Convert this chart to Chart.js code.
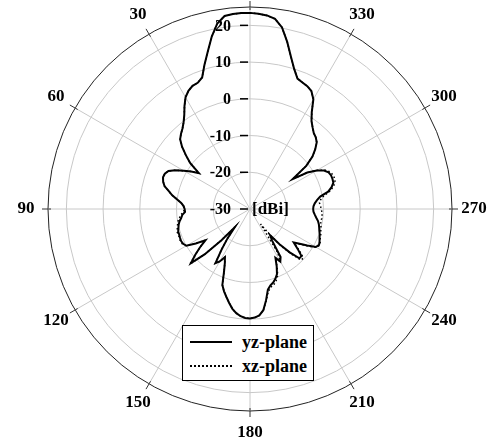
<!DOCTYPE html>
<html>
<head>
<meta charset="UTF-8">
<title>Radiation pattern</title>
<script src="https://cdn.jsdelivr.net/npm/chart.js"></script>
<style>
    body {
        margin: 0;
        background: #fff;
    }

    .wrap {
        position: relative;
        width: 500px;
        height: 443px;
    }

    .legend {
        position: absolute;
        left: 182px;
        top: 325px;
        width: 132px;
        height: 56px;
        border: 1px solid #000;
        background: #fff;
        font: bold 18px "Liberation Serif", serif;
        padding-top: 4px;
        box-sizing: border-box;
    }

    .legend .row {
        display: flex;
        align-items: center;
        height: 24px;
        margin-left: 7px;
    }

    .legend .sample {
        width: 42px;
        margin-right: 10px;
        border-top: 2px solid #000;
    }

    .legend .sample.dot {
        border-top: 2px dotted #000;
    }
</style>
</head>
<body>

<div class="wrap">
    <canvas id="polar"></canvas>
    <div class="legend">
        <div class="row"><span class="sample"></span>yz-plane</div>
        <div class="row"><span class="sample dot"></span>xz-plane</div>
    </div>
</div>

<script>
    // gain in dBi, every 2.5 deg, angle counted counter-clockwise from the top (0, 2.5, ... 357.5)
    const yzPlane = [
        23.4, 23.4, 23.3, 23.0, 21.3, 18.1, 14.4, 11.2, 8.1, 7.2, 7.0, 6.3,
        5.1, 3.2, 1.2, -0.3, -1.4, -2.2, -3.1, -4.9, -7.2, -9.5, -13.0, -11.0,
        -9.2, -7.1, -5.5, -4.9, -4.8, -5.2, -5.9, -7.3, -8.5, -10.0, -11.2, -11.9,
        -12.2, -12.3, -11.5, -11.1, -10.5, -10.1, -9.8, -9.5, -9.5, -9.4, -9.3, -9.5,
        -10.0, -12.5, -15.2, -12.8, -10.5, -8.2, -12.5, -18.5, -23.5, -20.0, -16.5, -12.5,
        -13.5, -15.2, -13.8, -11.5, -8.0, -6.5, -5.2, -3.8, -2.4, -1.4, -0.7, -0.3,
        -0.2, -0.4, -0.9, -2.2, -4.8, -7.5, -8.5, -9.0, -9.8, -10.8, -12.8, -15.0,
        -13.5, -14.5, -19.5, -21.0, -17.5, -14.0, -11.0, -11.0, -13.0, -15.0, -13.5, -11.5,
        -9.3, -8.8, -9.1, -9.5, -9.8, -10.2, -10.5, -10.8, -11.2, -11.8, -12.3, -12.7,
        -12.8, -12.7, -12.3, -11.6, -10.6, -8.2, -7.0, -6.2, -6.1, -6.1, -6.4, -7.3,
        -9.0, -11.5, -15.8, -10.7, -7.8, -5.9, -4.3, -3.5, -3.0, -2.0, -0.8, 1.3,
        4.5, 6.2, 6.9, 7.3, 7.8, 10.0, 13.0, 16.7, 20.2, 22.2, 22.9, 23.2
    ];

    const xzPlane = [
        23.4, 23.4, 23.3, 23.0, 21.3, 18.1, 14.4, 11.2, 8.1, 7.2, 7.0, 6.3,
        5.1, 3.2, 1.2, -0.3, -1.4, -2.2, -3.1, -4.9, -7.2, -9.5, -13.0, -11.0,
        -9.2, -7.1, -5.5, -4.9, -4.8, -5.2, -5.9, -7.3, -8.5, -10.0, -11.2, -11.9,
        -12.0, -12.0, -11.0, -10.6, -10.0, -9.8, -9.5, -9.2, -9.3, -9.2, -9.1, -9.3,
        -10.0, -12.5, -15.2, -12.8, -10.5, -7.8, -12.5, -18.5, -23.5, -20.0, -16.5, -12.5,
        -13.5, -15.2, -13.8, -11.5, -8.0, -6.5, -5.2, -3.8, -2.4, -1.4, -0.7, -0.3,
        -0.2, -0.4, -0.9, -2.2, -4.6, -7.0, -8.0, -8.4, -9.2, -10.3, -12.5, -15.0,
        -13.5, -16.0, -25.0, -21.5, -17.0, -13.5, -10.3, -10.3, -12.5, -14.8, -13.2, -11.2,
        -9.1, -8.6, -8.9, -9.3, -9.5, -9.8, -10.0, -10.2, -10.5, -10.3, -10.3, -10.4,
        -10.6, -10.8, -11.0, -10.6, -9.6, -7.8, -6.5, -5.7, -5.5, -5.6, -6.0, -7.0,
        -9.0, -11.5, -15.8, -10.7, -7.8, -5.9, -4.3, -3.5, -3.0, -2.0, -0.8, 1.3,
        4.5, 6.2, 6.9, 7.3, 7.8, 10.0, 13.0, 16.7, 20.2, 22.2, 22.9, 23.2
    ];

    const angleStep = 2.5;
    const angleMarks = [30, 60, 90, 120, 150, 180, 210, 240, 270, 300, 330];
    const rTicks = [-30, -20, -10, 0, 10, 20];
    const rMax = 25;

    // radar goes clockwise, the plot goes counter-clockwise -> walk the arrays backwards
    const n = yzPlane.length;
    const order = yzPlane.map((_, i) => (n - i) % n);
    const labels = order.map(k => k * angleStep);

    const polarText = {
        id: 'polarText',
        afterDatasetsDraw(chart) {
            const s = chart.scales.r;
            const ctx = chart.ctx;
            ctx.save();
            ctx.fillStyle = '#000';
            ctx.textBaseline = 'middle';

            // little ticks across the rim + angle labels
            ctx.strokeStyle = '#333';
            ctx.lineWidth = 1;
            ctx.font = 'bold 17px "Liberation Serif"';
            ctx.textAlign = 'center';
            chart.data.labels.forEach((lab, i) => {
                if (i % 12) return;
                const a = s.getPointPosition(i, s.drawingArea - 3);
                const b = s.getPointPosition(i, s.drawingArea + 6);
                ctx.beginPath();
                ctx.moveTo(a.x, a.y);
                ctx.lineTo(b.x, b.y);
                ctx.stroke();
                if (angleMarks.includes(lab)) {
                    const p = s.getPointPosition(i, s.drawingArea + 22);
                    ctx.fillText(String(lab), p.x, p.y);
                }
            });

            // dB labels along the upper axis
            ctx.font = 'bold 16px "Liberation Serif"';
            ctx.textAlign = 'right';
            ctx.strokeStyle = '#000';
            ctx.lineWidth = 1.5;
            rTicks.forEach(v => {
                const y = s.yCenter - s.getDistanceFromCenterForValue(v);
                ctx.fillText(String(v), s.xCenter - 19, y + 1);
                ctx.beginPath();
                ctx.moveTo(s.xCenter - 10, y);
                ctx.lineTo(s.xCenter - 2, y);
                ctx.stroke();
            });

            ctx.font = 'bold 17px "Liberation Serif"';
            ctx.textAlign = 'left';
            ctx.fillText('[dBi]', s.xCenter + 2, s.yCenter + 1);
            ctx.restore();
        }
    };

    new Chart(document.getElementById('polar'), {
        type: 'radar',
        data: {
            labels: labels,
            datasets: [
                {
                    label: 'yz-plane',
                    data: order.map(k => yzPlane[k]),
                    borderColor: '#000',
                    backgroundColor: 'transparent',
                    borderWidth: 2,
                    pointRadius: 0,
                    fill: false
                },
                {
                    label: 'xz-plane',
                    data: order.map(k => xzPlane[k]),
                    borderColor: '#000',
                    backgroundColor: 'transparent',
                    borderWidth: 1.5,
                    borderDash: [1.5, 2.5],
                    pointRadius: 0,
                    fill: false
                }
            ]
        },
        options: {
            responsive: true,
            maintainAspectRatio: false,
            animation: false,
            layout: {
                padding: { left: 48, right: 48, top: 7, bottom: 32 }
            },
            plugins: {
                legend: { display: false },
                tooltip: { enabled: false }
            },
            scales: {
                r: {
                    min: rTicks[0],
                    max: rMax,
                    afterBuildTicks: s => {
                        s.ticks = rTicks.concat([rMax]).map(v => ({ value: v }));
                    },
                    ticks: { display: false },
                    pointLabels: { display: false },
                    grid: {
                        circular: true,
                        lineWidth: 1,
                        color: c => {
                            if (!c.tick) return '#c8c8c8';
                            if (c.tick.value === rMax) return '#222';
                            if (c.tick.value === rTicks[0]) return 'transparent';
                            return '#c8c8c8';
                        }
                    },
                    angleLines: {
                        color: '#c8c8c8',
                        lineWidth: c => (c.index % 12 === 0 ? 1 : 0)
                    }
                }
            }
        },
        plugins: [polarText]
    });
</script>

</body>
</html>
